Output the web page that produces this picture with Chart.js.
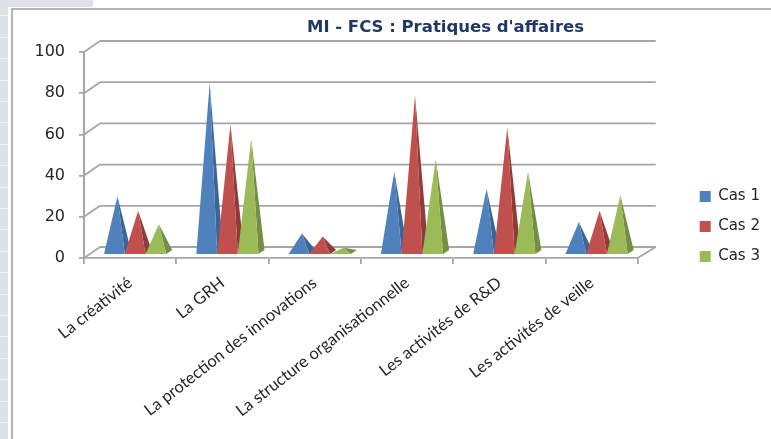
<!DOCTYPE html>
<html>
<head>
<meta charset="utf-8">
<style>
  html, body { margin: 0; padding: 0; background: #fff; overflow: hidden; }
  #wrap { position: relative; width: 771px; height: 439px; }
  #stripeLeft {
    position: absolute; left: 0; top: 0; width: 8px; height: 439px;
    background: repeating-linear-gradient(#dfe1e8 0, #dfe1e8 20.4px, #eef1f6 20.4px, #eef1f6 21.4px);
    background-position: 0 -5px;
  }
  #stripeTop { position: absolute; left: 0; top: 0; width: 93px; height: 7px; background: #dfe1e8; }
  #frameTop { position: absolute; left: 11px; top: 8px; width: 760px; height: 2px; background: #b4b4b4; }
  #frameLeft { position: absolute; left: 11px; top: 8px; width: 2px; height: 431px; background: #b4b4b4; }
  canvas { position: absolute; left: 0; top: 0; }
</style>
</head>
<body>
<div id="wrap">
  <div id="stripeLeft"></div>
  <div id="stripeTop"></div>
  <div id="frameTop"></div>
  <div id="frameLeft"></div>
  <canvas id="chart" width="771" height="439"></canvas>
</div>
<script src="https://cdn.jsdelivr.net/npm/chart.js@4"></script>
<script>
  const categories = [
    "La créativité",
    "La GRH",
    "La protection des innovations",
    "La structure organisationnelle",
    "Les activités de R&D",
    "Les activités de veille",
  ];
  const cas1 = [28, 83, 10, 40, 31.5, 15.5];
  const cas2 = [21, 63, 8.5, 77, 61.5, 21];
  const cas3 = [14.5, 56, 3, 46, 40, 28.5];
  const yTicks = [0, 20, 40, 60, 80, 100];

  const gridColor = "#a6a6a6";
  const textColor = "#262626";

  // 3D look, the wall sits behind the axes
  const depthX = 16;
  const depthY = 11;

  function shade(ctx, pts, color) {
    ctx.fillStyle = color;
    ctx.beginPath();
    ctx.moveTo(pts[0][0], pts[0][1]);
    for (let i = 1; i < pts.length; i++) ctx.lineTo(pts[i][0], pts[i][1]);
    ctx.closePath();
    ctx.fill();
  }

  function line(ctx, x1, y1, x2, y2) {
    ctx.beginPath();
    ctx.moveTo(x1, y1);
    ctx.lineTo(x2, y2);
    ctx.stroke();
  }

  const pyramidPlugin = {
    id: "pyramids",
    afterLayout(chart) {
      // title and legend are not centred on the canvas in the original
      const t = chart.titleBlock;
      t.left += 74;
      t.right += 74;
      const l = chart.legend;
      l.left += 47;
      l.right += 47;
      l.top -= 2;
      l.bottom -= 2;
    },
    beforeDatasetsDraw(chart) {
      const ctx = chart.ctx;
      const area = chart.chartArea;
      const y = chart.scales.y;

      ctx.save();
      ctx.strokeStyle = gridColor;
      ctx.lineWidth = 1.8;
      yTicks.forEach(function (v) {
        const py = y.getPixelForValue(v);
        line(ctx, area.left, py, area.left + depthX, py - depthY);
        line(ctx, area.left + depthX, py - depthY, area.right + 18, py - depthY);
      });
      line(ctx, area.right, area.bottom, area.right + 18, area.bottom - depthY);

      chart.data.datasets.forEach(function (ds, i) {
        chart.getDatasetMeta(i).data.forEach(function (bar) {
          const left = bar.x + 5 - bar.width / 2;
          const right = bar.x + 5 + bar.width / 2;
          const base = bar.base - 3;
          const tipX = bar.x + 8;
          const tipY = bar.y - 4;
          shade(ctx, [[right, base], [right + 6, base - 4], [tipX, tipY]], ds.sideColor);
          shade(ctx, [[left, base], [right, base], [tipX, tipY]], ds.backgroundColor);
        });
      });
      ctx.restore();
      return false; // pyramids replace the bars
    },
  };

  new Chart(document.getElementById("chart"), {
    type: "bar",
    data: {
      labels: categories,
      datasets: [
        { label: "Cas 1", data: cas1, backgroundColor: "#4f81bd", sideColor: "#3a6595" },
        { label: "Cas 2", data: cas2, backgroundColor: "#c0504d", sideColor: "#8f3b39" },
        { label: "Cas 3", data: cas3, backgroundColor: "#9bbb59", sideColor: "#748e42" },
      ],
    },
    plugins: [pyramidPlugin],
    options: {
      responsive: false,
      animation: false,
      layout: { padding: { left: 20, right: 48, top: 18, bottom: 0 } },
      categoryPercentage: 0.674,
      barPercentage: 1,
      scales: {
        x: {
          afterFit(axis) {
            axis.height = 181;
          },
          grid: {
            drawOnChartArea: false,
            color: gridColor,
            lineWidth: 1.8,
            tickLength: 6,
          },
          border: { color: gridColor, width: 1.8 },
          ticks: {
            color: textColor,
            font: { family: "Lato", size: 16.5 },
            minRotation: 38,
            maxRotation: 38,
            autoSkip: false,
            padding: 9,
          },
        },
        y: {
          min: 0,
          max: 100,
          afterFit(axis) {
            axis.width = 64;
          },
          afterBuildTicks(axis) {
            axis.ticks = yTicks.map(function (v) {
              return { value: v };
            });
          },
          grid: {
            drawOnChartArea: false,
            color: gridColor,
            lineWidth: 1.8,
            tickLength: 5,
          },
          border: { color: gridColor, width: 2 },
          ticks: {
            color: textColor,
            font: { family: "DejaVu Sans", size: 16 },
            padding: 14,
          },
        },
      },
      plugins: {
        title: {
          display: true,
          text: "MI - FCS : Pratiques d'affaires",
          color: "#1f3864",
          font: { family: "DejaVu Sans", size: 16.5, weight: "bold" },
          padding: { top: 0, bottom: 14.2 },
        },
        legend: {
          position: "right",
          labels: {
            color: textColor,
            font: { family: "DejaVu Sans", size: 15 },
            boxWidth: 11,
            boxHeight: 11,
            padding: 15,
          },
        },
        tooltip: { enabled: false },
      },
    },
  });
</script>
</body>
</html>
